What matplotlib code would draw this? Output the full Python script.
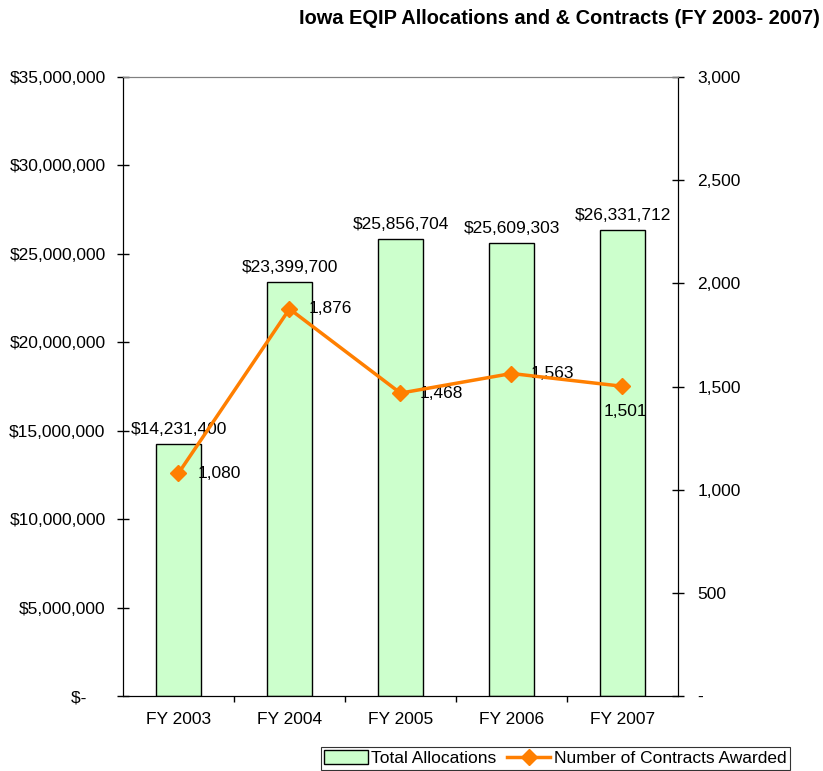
import matplotlib
matplotlib.use("Agg")
import matplotlib.pyplot as plt
from matplotlib.ticker import FuncFormatter, FixedLocator

plt.rcParams['font.family'] = ['Liberation Sans', 'DejaVu Sans']

categories = ["FY 2003", "FY 2004", "FY 2005", "FY 2006", "FY 2007"]
allocations = [14231400, 23399700, 25856704, 25609303, 26331712]
contracts = [1080, 1876, 1468, 1563, 1501]

FS = 12.5

fig = plt.figure(figsize=(8.23, 7.71), dpi=100)
ax = fig.add_axes([123/823, 1-696/771, 555/823, 619/771])
ax2 = ax.twinx()
ax.set_zorder(1)
ax2.set_zorder(2)
ax.patch.set_visible(False)

x = list(range(len(categories)))
bars = ax.bar(x, allocations, width=0.405, color="#CCFFCC", edgecolor="black",
              linewidth=1.0, label="Total Allocations", zorder=2)
ax.set_xlim(-0.5, 4.5)
ax.set_ylim(0, 35000000)
ax.set_yticks(range(0, 35000001, 5000000))
ax.yaxis.set_major_formatter(FuncFormatter(lambda v, p: "$-    " if v == 0 else f"${v:,.0f}"))
ax.set_xticks(x)
ax.set_xticklabels(categories)
ax.xaxis.set_minor_locator(FixedLocator([0.5, 1.5, 2.5, 3.5]))
ax.tick_params(axis='x', which='major', length=0, pad=11.5, labelsize=FS)
ax.tick_params(axis='x', which='minor', length=4, direction='out', width=1)
ax.tick_params(axis='y', which='major', direction='inout', length=8, width=1, pad=8.5, labelsize=FS)

for xi, v in zip(x, allocations):
    ax.annotate(f"${v:,.0f}", (xi, v), xytext=(0, 5), textcoords="offset points",
                ha="center", va="bottom", fontsize=FS, zorder=5)

line, = ax2.plot(x, contracts, color="#FF7F00", linewidth=2.5, marker="D",
                 markersize=8, label="Number of Contracts Awarded", zorder=3)
ax2.set_ylim(0, 3000)
ax2.set_yticks(range(0, 3001, 500))
ax2.yaxis.set_major_formatter(FuncFormatter(lambda v, p: "-" if v == 0 else f"{v:,.0f}"))
ax2.tick_params(axis='y', which='major', direction='inout', length=8, width=1, pad=10, labelsize=FS)

offsets = [(14, 0), (14, 0), (14, 0), (14, 0), (2, -18)]
has = ["left", "left", "left", "left", "center"]
for xi, v, off, ha in zip(x, contracts, offsets, has):
    ax2.annotate(f"{v:,.0f}", (xi, v), xytext=off, textcoords="offset points",
                 ha=ha, va="center", fontsize=FS, zorder=1)

for a in (ax, ax2):
    a.spines['top'].set_color("#808080")
    a.spines['left'].set_color("black")
    a.spines['right'].set_color("black")
    a.spines['bottom'].set_color("black")

fig.text(0.996, 1-18/771, "Iowa EQIP Allocations and & Contracts (FY 2003- 2007)",
         ha="right", va="center", fontsize=14.4, fontweight="bold")

leg = fig.legend([bars, line], ["Total Allocations", "Number of Contracts Awarded"],
                 loc="upper left", bbox_to_anchor=(321/823, 1-747/771), ncol=2,
                 frameon=True, fancybox=False, edgecolor="black", fontsize=FS,
                 handlelength=2.5, handleheight=0.8, columnspacing=0.6, handletextpad=0.2,
                 borderpad=0.2, borderaxespad=0)
leg.get_frame().set_linewidth(0.8)

fig.savefig("out.png", dpi=100)
